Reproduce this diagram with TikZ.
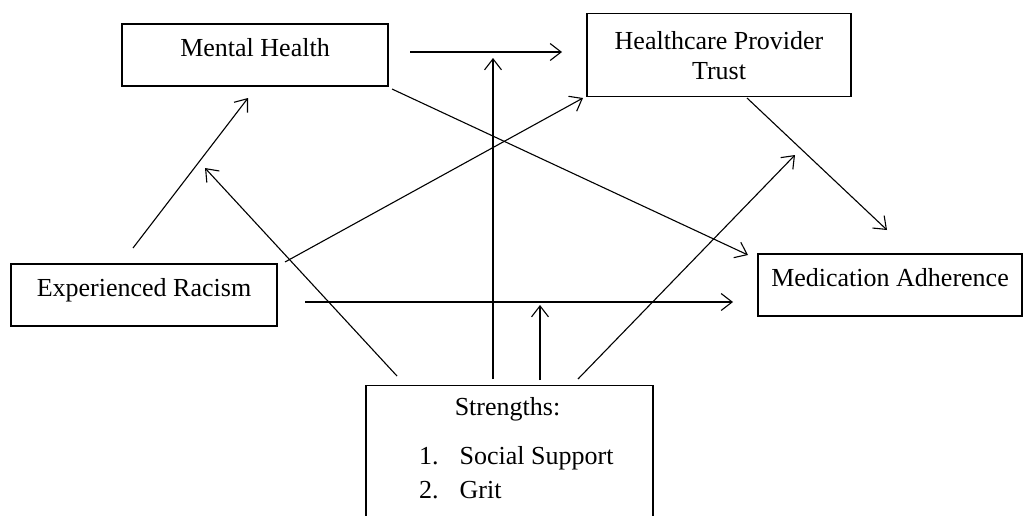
\documentclass[tikz,border=0pt]{standalone}
\usepackage{fontspec}
\setmainfont{Liberation Serif}
\usetikzlibrary{arrows.meta}
\tikzset{
    box/.style =    {rectangle,
                    fill=white,
                    draw=black,
                    text=black,
                    line width=1.3pt,
                    inner sep=0pt,
                    font=\fontsize{26}{30}\selectfont},
    single/.style = {box,
                    anchor=base,
                    text height=32pt,
                    text depth=30pt,
                    minimum width=266pt},
    double/.style = {box,
                    anchor=north,
                    align=center,
                    minimum width=264pt,
                    minimum height=83pt},
    txt/.style =    {inner sep=0pt,
                    anchor=base,
                    text=black,
                    font=\fontsize{26}{30}\selectfont},
    -,
    >={Straight Barb[length=11pt,width=17pt]}}

\begin{document}
\begin{tikzpicture}[x=1pt,y=-1pt]
                \useasboundingbox (0,0) rectangle (1027,515);
                \node[single]       (MH)  at (255,56)    {Mental Health};
                \node[double]       (HPT) at (719,13)    {Healthcare Provider\\Trust};
                \node[single]       (ER)  at (144,296)   {Experienced Racism};
                \node[single,minimum width=264pt]   (MA) at (890,286)   {Medication Adherence};
                \node[box,anchor=north,minimum width=287pt,minimum height=150pt]   (S) at (509.5,385) {};
                \node[txt]          (SH)  at (507.5,415) {Strengths:};
                \node[txt,anchor=base west] (SL) at (419,464)
                    {\begin{tabular}[t]{@{}l@{\hspace{21pt}}l@{}}1. & Social Support\\[4pt] 2. & Grit\end{tabular}};

                % free ends of the arrows
                \coordinate (mh-r)  at (410,52);   \coordinate (hpt-l) at (562,52);
                \coordinate (er-t)  at (133,248);  \coordinate (mh-b)  at (248,98);
                \coordinate (s-a)   at (397,376);  \coordinate (mh-m)  at (205,168);
                \coordinate (er-r)  at (285,262);  \coordinate (hpt-b) at (583,98);
                \coordinate (mh-c)  at (392,89);   \coordinate (ma-t)  at (748,255);
                \coordinate (s-b)   at (493,379);  \coordinate (mid-t) at (493,58);
                \coordinate (hpt-c) at (747,98);   \coordinate (ma-r)  at (887,230);
                \coordinate (s-d)   at (578,379);  \coordinate (ma-u)  at (795,155);
                \coordinate (er-m)  at (305,302);  \coordinate (ma-l)  at (733,302);
                \coordinate (s-c)   at (540,380);  \coordinate (er-a)  at (540,305);

                \path [line width=1.1pt,->]    (mh-r)  edge []    (hpt-l)
                                                (er-t)  edge []    (mh-b)
                                                (s-a)   edge []    (mh-m)
                                                (er-r)  edge []    (hpt-b)
                                                (mh-c)  edge []    (ma-t)
                                                (s-b)   edge []    (mid-t)
                                                (hpt-c) edge []    (ma-r)
                                                (s-d)   edge []    (ma-u)
                                                (er-m)  edge []    (ma-l)
                                                (s-c)   edge []    (er-a);
        \end{tikzpicture}
\end{document}
